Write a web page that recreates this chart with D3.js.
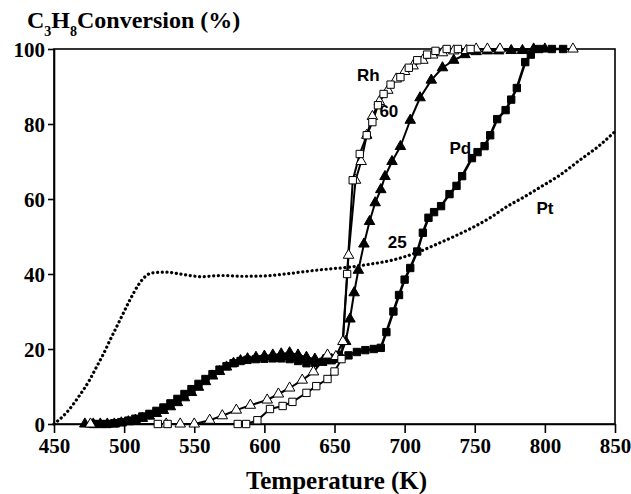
<!DOCTYPE html>
<html>
<head>
<meta charset="utf-8">
<script src="https://cdn.jsdelivr.net/npm/d3@7"></script>
<style>
  body { margin: 0; background: #fff; }
  svg text { font-family: "Liberation Serif", "Times New Roman", serif; font-weight: bold; }
  .lbl { font-family: "Liberation Sans", Arial, sans-serif; font-weight: bold; }
</style>
</head>
<body>
<svg id="chart" width="631" height="494"></svg>
<script>
// temperature (K), conversion (%)
const rh = [[524,0],[531,0],[581,0],[587,0],[595,1],[604,4],[613,4.8],[620,5.9],[630,8.3],[637,10.1],[645,12],[650,14],[655,17.3],[659,40],[663,65],[668,72],[673,77],[677,80.5],[681,85],[685,88],[690,90.5],[697,92.5],[703,95],[709,97],[716,98.5],[722,99.5],[730,100],[738,100],[747,100]];
const r60 = [[476,0],[530,0],[540,0],[550,0],[561,1],[570,2.2],[580,3.7],[590,5],[602,6.4],[610,8],[618,9.6],[627,11.7],[635,13.9],[645,18.4],[651,18],[656,22],[660,45],[665,65],[669,70],[673,77],[677,82],[682,86],[688,89],[694,92],[700,94],[706,95.5],[713,97],[720,98.4],[727,99],[735,99.5],[744,99.6],[751,100],[759,100],[768,100],[820,100]];
const r25 = [[472,0],[478,0],[483,0],[488,0],[493,0],[498,0.3],[503,0.6],[508,1],[513,1.5],[518,2.1],[523,2.8],[528,3.6],[533,4.6],[538,5.7],[543,7],[548,8.4],[553,9.8],[558,11.3],[563,12.8],[568,14],[573,15.2],[578,16.2],[583,16.9],[588,17.4],[594,17.8],[600,18.1],[606,18.4],[612,18.7],[618,19],[624,18.4],[630,17.8],[636,17.3],[642,17],[648,17.2],[654,18],[658,22],[661,28],[664,35],[667,41],[671,48],[675,54],[679,59],[683,62.5],[686,66],[691,70],[697,74],[704,81],[711,87],[719,91.7],[727,95],[735,97],[743,98.5],[751,99.3],[759,99.5],[767,99.5],[776,99.6],[784,99.6],[792,100],[800,100]];
const pd = [[478,0],[483,0],[488,0],[493,0.2],[498,0.5],[503,0.9],[508,1.4],[513,2],[518,2.7],[523,3.5],[528,4.4],[533,5.5],[538,6.7],[543,8],[548,9.3],[553,10.7],[558,12],[563,13.3],[568,14.5],[573,15.4],[578,16.2],[583,16.8],[588,17.1],[594,17.3],[600,17.4],[606,17.5],[612,17.5],[618,17.3],[624,16.8],[630,16.2],[636,16.3],[642,16.6],[648,17],[654,17.5],[660,18.3],[666,19.2],[672,19.7],[678,20],[683,20.3],[687,24.5],[692,30],[696,34.4],[700,38.5],[704,41.6],[709,46],[713,51],[717,55],[721,56.5],[726,58.1],[732,61.3],[737,63.5],[741,66.1],[748,70.9],[752,72.5],[757,74.1],[761,77],[766,81.3],[772,83.7],[776,86.5],[780,89.6],[786,96.5],[790,98.5],[796,100],[805,100],[813,100]];
const pt = [[450,0],[452,0.6],[460,3.5],[468,7.5],[475,11.5],[480,15],[485,18.5],[490,22.4],[497,27.7],[504,33],[510,37],[515,39.3],[520,40.3],[530,40.5],[540,40],[555,39.3],[570,39.6],[585,39.4],[600,39.5],[615,40],[630,40.7],[645,41.3],[660,41.8],[675,42.6],[690,43.6],[700,44.6],[712,46.2],[725,48.3],[737,50.3],[749,52.5],[761,55],[773,58],[785,60.5],[796,63],[810,66.2],[825,70.4],[838,74],[850,78]];

const xTicks = [450,500,550,600,650,700,750,800,850];
const yTicks = [0,20,40,60,80,100];
const curveLabels = [["Rh",666,91.5],["60",682,82],["25",688,47],["Pd",732,72],["Pt",794,56]];

const margin = { left: 54, right: 16, top: 49, bottom: 70 };
const width = 631, height = 494;
const svg = d3.select('#chart');

let x = d3.scaleLinear().domain([450, 850]).range([margin.left, width - margin.right]);
let y = d3.scaleLinear().domain([0, 100]).range([height - margin.bottom, margin.top]);

// frame
svg.append('rect')
  .attr('x', x(450)).attr('y', y(100))
  .attr('width', x(850) - x(450)).attr('height', y(0) - y(100))
  .attr('fill', 'none').attr('stroke', '#000').attr('stroke-width', 1.6);

let xAxis = svg.append('g')
  .attr('transform', `translate(0,${y(0)})`)
  .call(d3.axisBottom(x).tickValues(xTicks).tickSize(9).tickSizeOuter(0).tickPadding(5));
let yAxis = svg.append('g')
  .attr('transform', `translate(${x(450)},0)`)
  .call(d3.axisLeft(y).tickValues(yTicks).tickSize(6).tickSizeOuter(0).tickPadding(3));
[xAxis, yAxis].forEach((g) => {
  g.select('.domain').attr('stroke-width', 1.6);
  g.selectAll('.tick line').attr('stroke-width', 1.6);
  g.selectAll('.tick text').attr('fill', '#000').style('font-size', '21px')
    .style('font-family', '"Liberation Serif", serif').style('font-weight', 'bold');
});
yAxis.selectAll('.tick text').attr('dy', '0.36em');

svg.append('text')
  .attr('x', (x(450) + x(850)) / 2 + 2).attr('y', 489)
  .attr('text-anchor', 'middle').style('font-size', '25px')
  .text('Temperature (K)');

let title = svg.append('text').attr('x', 27).attr('y', 28).style('font-size', '24px');
title.append('tspan').text('C');
title.append('tspan').attr('dy', 8).style('font-size', '14px').text('3');
title.append('tspan').attr('dy', -8).text('H');
title.append('tspan').attr('dy', 8).style('font-size', '14px').text('8');
title.append('tspan').attr('dy', -8).text('Conversion (%)');

const line = d3.line().x((d) => x(d[0])).y((d) => y(d[1]));

svg.append('path').datum(pt)
  .attr('d', line.curve(d3.curveMonotoneX))
  .attr('fill', 'none').attr('stroke', '#000')
  .attr('stroke-width', 3.2).attr('stroke-linecap', 'round')
  .attr('stroke-dasharray', '0.1 4.6');

line.curve(d3.curveLinear);
[pd, r25, r60, rh].forEach((s) => {
  svg.append('path').datum(s)
    .attr('d', line)
    .attr('fill', 'none').attr('stroke', '#000')
    .attr('stroke-width', s === pd ? 2.6 : 2)
    .attr('stroke-linejoin', 'round');
});

const sq = d3.symbol().type(d3.symbolSquare).size(54);
const tri = d3.symbol().type(d3.symbolTriangle).size(48);

let drawMarks = (data, sym, filled) => {
  svg.append('g').selectAll('path')
    .data(data)
    .enter().append('path')
    .attr('transform', (d) => `translate(${x(d[0])},${y(d[1])})`)
    .attr('d', sym)
    .attr('fill', filled ? '#000' : '#fff')
    .attr('stroke', '#000')
    .attr('stroke-width', 1);
};
drawMarks(r25, tri, true);
drawMarks(pd, sq, true);
drawMarks(r60, tri, false);
drawMarks(rh, sq, false);

svg.append('g').selectAll('text')
  .data(curveLabels)
  .enter().append('text')
  .attr('class', 'lbl')
  .attr('x', (d) => x(d[1])).attr('y', (d) => y(d[2]))
  .style('font-size', '17px')
  .text((d) => d[0]);
</script>
</body>
</html>
